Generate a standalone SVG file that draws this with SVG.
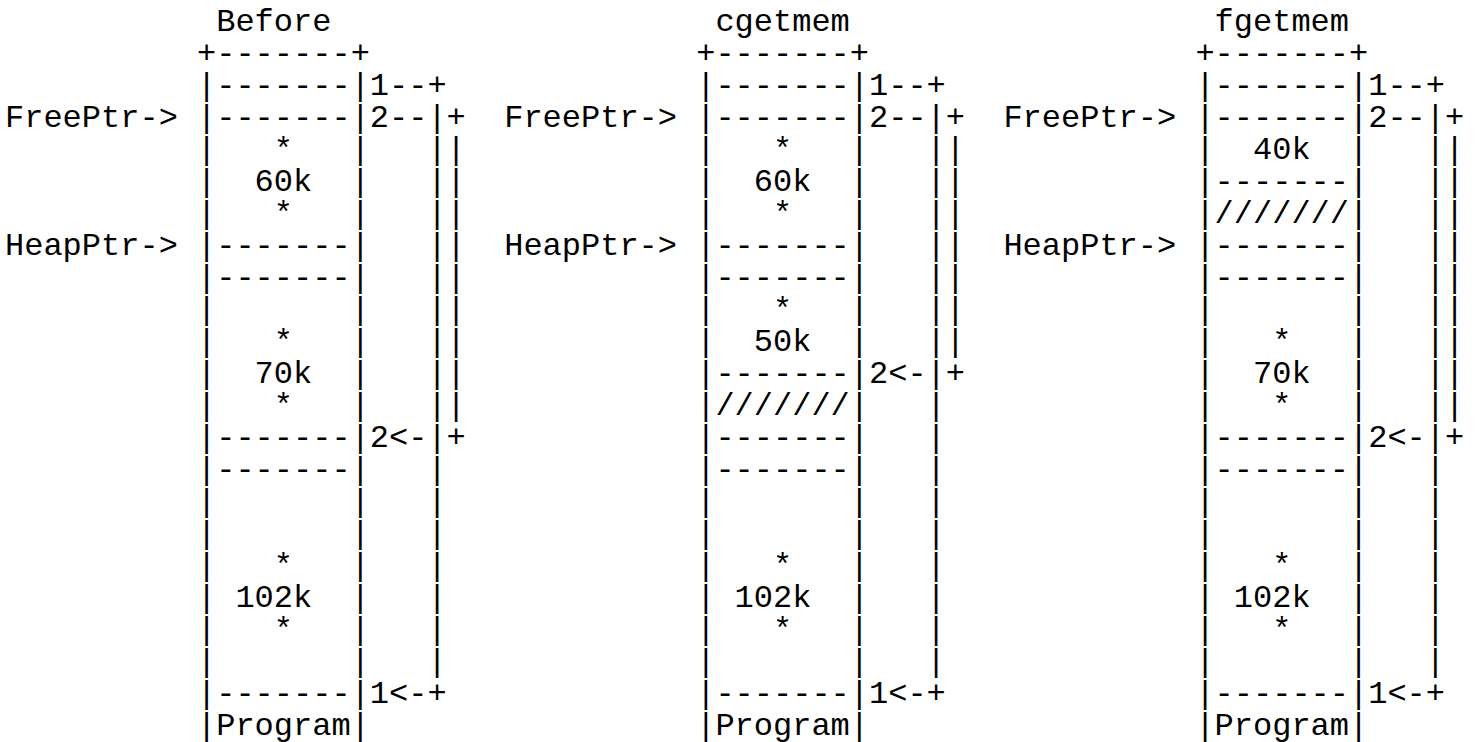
<svg xmlns="http://www.w3.org/2000/svg" width="1476" height="742" viewBox="0 0 1476 742">
<style>
text{font-family:"Liberation Mono","Courier New",monospace;font-size:32px;fill:#000;white-space:pre}
</style>
<rect width="1476" height="742" fill="#fff"/>
<g id="before">
<text x="216.2" y="31">Before</text>
<text x="5" y="127">FreePtr-&gt;</text>
<text x="5" y="255">HeapPtr-&gt;</text>
<g id="before-box">
<text x="197" y="63">+-------+</text>
<text x="197" y="95">|-------|</text>
<text x="197" y="127">|-------|</text>
<text x="197" y="159">|   *   |</text>
<text x="197" y="191">|  60k  |</text>
<text x="197" y="223">|   *   |</text>
<text x="197" y="255">|-------|</text>
<text x="197" y="287">|-------|</text>
<text x="197" y="319">|       |</text>
<text x="197" y="351">|   *   |</text>
<text x="197" y="383">|  70k  |</text>
<text x="197" y="415">|   *   |</text>
<text x="197" y="447">|-------|</text>
<text x="197" y="479">|-------|</text>
<text x="197" y="511">|       |</text>
<text x="197" y="543">|       |</text>
<text x="197" y="575">|   *   |</text>
<text x="197" y="607">| 102k  |</text>
<text x="197" y="639">|   *   |</text>
<text x="197" y="671">|       |</text>
<text x="197" y="703">|-------|</text>
<text x="197" y="735">|Program|</text>
</g>
</g>
<g id="cgetmem" transform="translate(499.2,0)">
<text x="216.2" y="31">cgetmem</text>
<text x="5" y="127">FreePtr-&gt;</text>
<text x="5" y="255">HeapPtr-&gt;</text>
<g id="cgetmem-box">
<text x="197" y="63">+-------+</text>
<text x="197" y="95">|-------|</text>
<text x="197" y="127">|-------|</text>
<text x="197" y="159">|   *   |</text>
<text x="197" y="191">|  60k  |</text>
<text x="197" y="223">|   *   |</text>
<text x="197" y="255">|-------|</text>
<text x="197" y="287">|-------|</text>
<text x="197" y="319">|   *   |</text>
<text x="197" y="351">|  50k  |</text>
<text x="197" y="383">|-------|</text>
<text x="197" y="415">|///////|</text>
<text x="197" y="447">|-------|</text>
<text x="197" y="479">|-------|</text>
<text x="197" y="511">|       |</text>
<text x="197" y="543">|       |</text>
<text x="197" y="575">|   *   |</text>
<text x="197" y="607">| 102k  |</text>
<text x="197" y="639">|   *   |</text>
<text x="197" y="671">|       |</text>
<text x="197" y="703">|-------|</text>
<text x="197" y="735">|Program|</text>
</g>
</g>
<g id="fgetmem" transform="translate(998.4,0)">
<text x="216.2" y="31">fgetmem</text>
<text x="5" y="127">FreePtr-&gt;</text>
<text x="5" y="255">HeapPtr-&gt;</text>
<g id="fgetmem-box">
<text x="197" y="63">+-------+</text>
<text x="197" y="95">|-------|</text>
<text x="197" y="127">|-------|</text>
<text x="197" y="159">|  40k  |</text>
<text x="197" y="191">|-------|</text>
<text x="197" y="223">|///////|</text>
<text x="197" y="255">|-------|</text>
<text x="197" y="287">|-------|</text>
<text x="197" y="319">|       |</text>
<text x="197" y="351">|   *   |</text>
<text x="197" y="383">|  70k  |</text>
<text x="197" y="415">|   *   |</text>
<text x="197" y="447">|-------|</text>
<text x="197" y="479">|-------|</text>
<text x="197" y="511">|       |</text>
<text x="197" y="543">|       |</text>
<text x="197" y="575">|   *   |</text>
<text x="197" y="607">| 102k  |</text>
<text x="197" y="639">|   *   |</text>
<text x="197" y="671">|       |</text>
<text x="197" y="703">|-------|</text>
<text x="197" y="735">|Program|</text>
</g>
</g>
<g id="connectors">
<g id="conn-before">
<text x="369.8" y="95">1--+</text>
<text x="369.8" y="127">2--|+</text>
<text x="369.8" y="159">   ||</text>
<text x="369.8" y="191">   ||</text>
<text x="369.8" y="223">   ||</text>
<text x="369.8" y="255">   ||</text>
<text x="369.8" y="287">   ||</text>
<text x="369.8" y="319">   ||</text>
<text x="369.8" y="351">   ||</text>
<text x="369.8" y="383">   ||</text>
<text x="369.8" y="415">   ||</text>
<text x="369.8" y="447">2&lt;-|+</text>
<text x="369.8" y="479">   |</text>
<text x="369.8" y="511">   |</text>
<text x="369.8" y="543">   |</text>
<text x="369.8" y="575">   |</text>
<text x="369.8" y="607">   |</text>
<text x="369.8" y="639">   |</text>
<text x="369.8" y="671">   |</text>
<text x="369.8" y="703">1&lt;-+</text>
</g>
<g id="conn-cgetmem">
<text x="869" y="95">1--+</text>
<text x="869" y="127">2--|+</text>
<text x="869" y="159">   ||</text>
<text x="869" y="191">   ||</text>
<text x="869" y="223">   ||</text>
<text x="869" y="255">   ||</text>
<text x="869" y="287">   ||</text>
<text x="869" y="319">   ||</text>
<text x="869" y="351">   ||</text>
<text x="869" y="383">2&lt;-|+</text>
<text x="869" y="415">   |</text>
<text x="869" y="447">   |</text>
<text x="869" y="479">   |</text>
<text x="869" y="511">   |</text>
<text x="869" y="543">   |</text>
<text x="869" y="575">   |</text>
<text x="869" y="607">   |</text>
<text x="869" y="639">   |</text>
<text x="869" y="671">   |</text>
<text x="869" y="703">1&lt;-+</text>
</g>
<g id="conn-fgetmem">
<text x="1368.2" y="95">1--+</text>
<text x="1368.2" y="127">2--|+</text>
<text x="1368.2" y="159">   ||</text>
<text x="1368.2" y="191">   ||</text>
<text x="1368.2" y="223">   ||</text>
<text x="1368.2" y="255">   ||</text>
<text x="1368.2" y="287">   ||</text>
<text x="1368.2" y="319">   ||</text>
<text x="1368.2" y="351">   ||</text>
<text x="1368.2" y="383">   ||</text>
<text x="1368.2" y="415">   ||</text>
<text x="1368.2" y="447">2&lt;-|+</text>
<text x="1368.2" y="479">   |</text>
<text x="1368.2" y="511">   |</text>
<text x="1368.2" y="543">   |</text>
<text x="1368.2" y="575">   |</text>
<text x="1368.2" y="607">   |</text>
<text x="1368.2" y="639">   |</text>
<text x="1368.2" y="671">   |</text>
<text x="1368.2" y="703">1&lt;-+</text>
</g>
</g>
</svg>
